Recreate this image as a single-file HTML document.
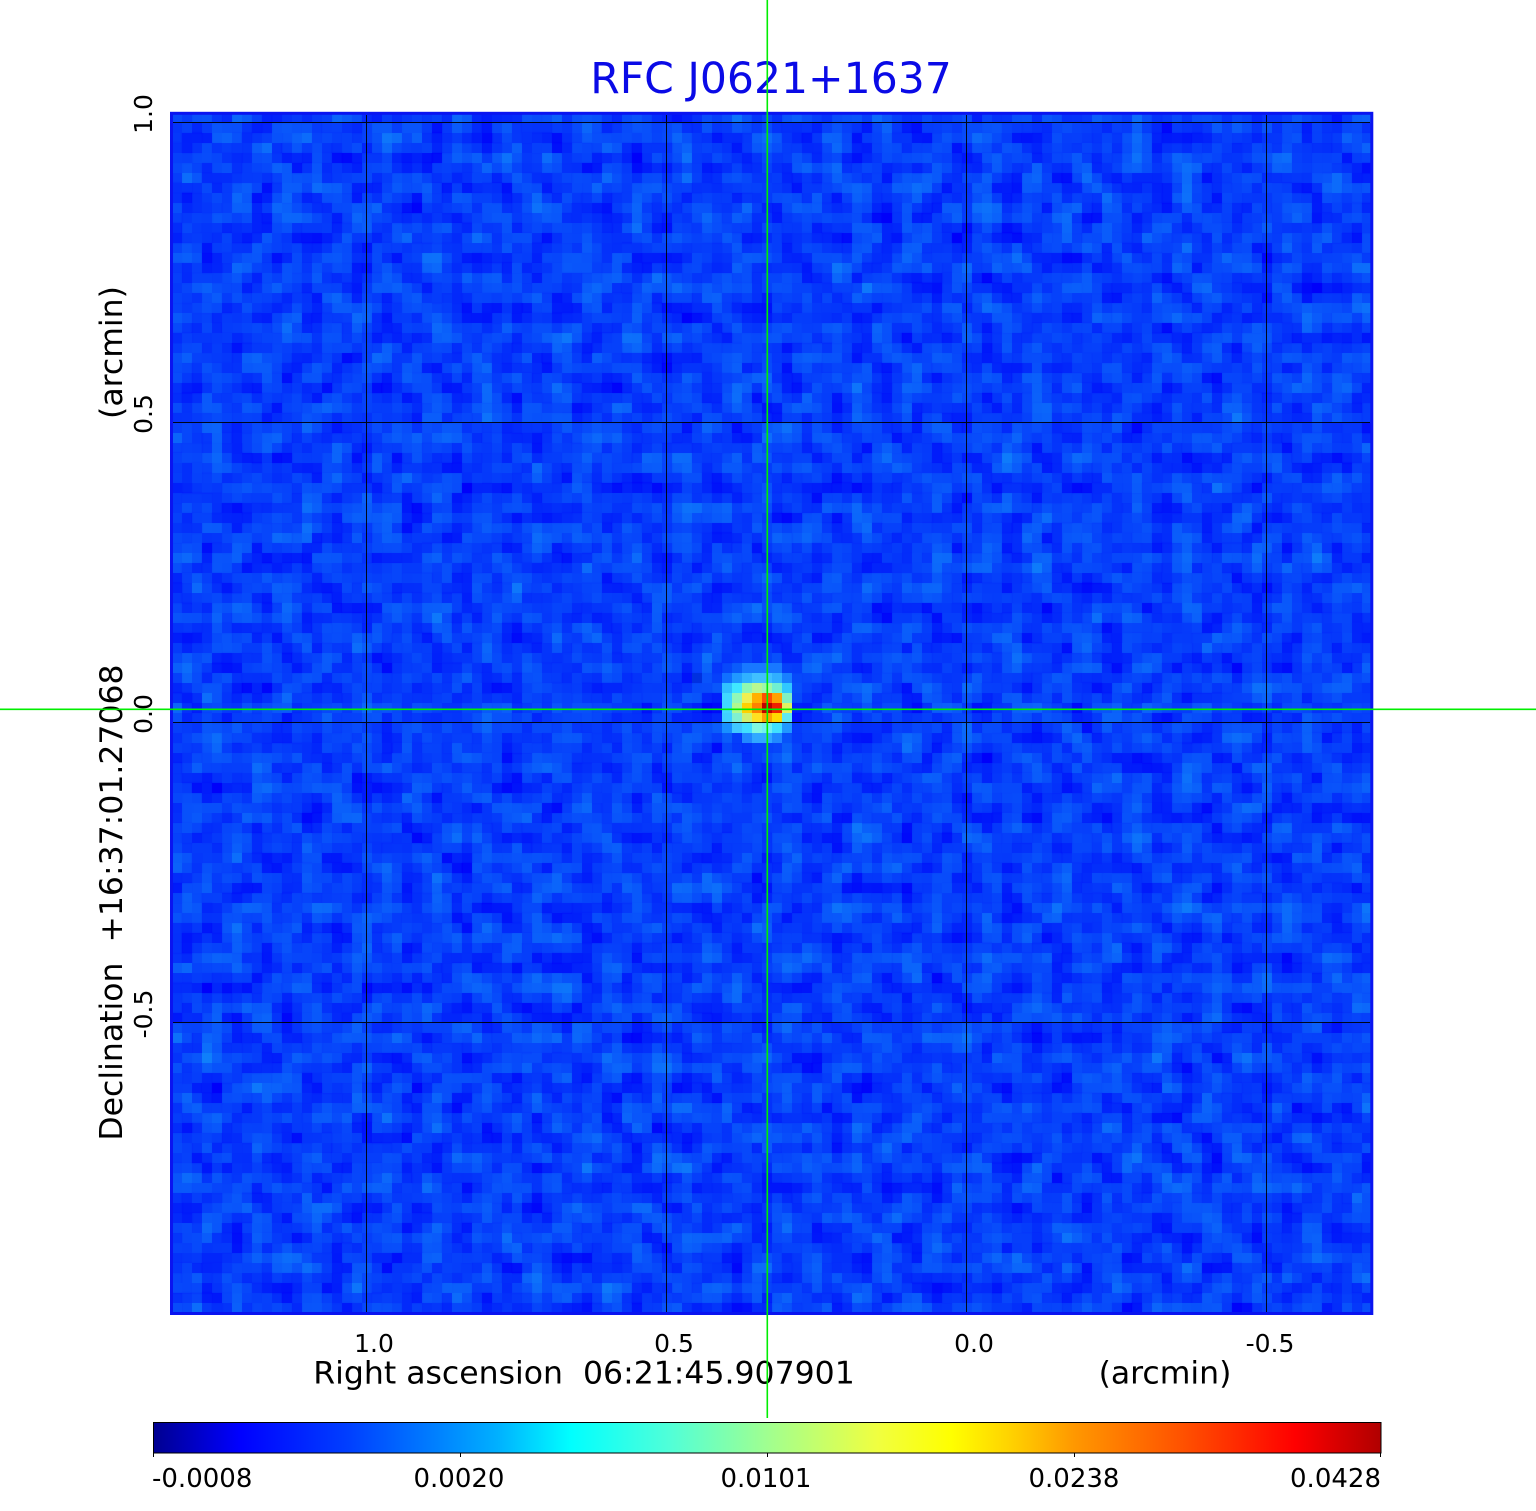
<!DOCTYPE html>
<html><head><meta charset="utf-8"><style>
html,body{margin:0;padding:0;background:#fff;}
svg{display:block;}
text{font-family:"DejaVu Sans","Liberation Sans",sans-serif;fill:#000;}
</style></head><body>
<svg width="1536" height="1511" viewBox="0 0 1536 1511" xmlns="http://www.w3.org/2000/svg">
<defs>
<filter id="pix" x="172" y="113" width="1200" height="1200" filterUnits="userSpaceOnUse" primitiveUnits="userSpaceOnUse" color-interpolation-filters="sRGB">
  <feTurbulence type="fractalNoise" baseFrequency="0.04" numOctaves="2" seed="7" result="t"/>
  <feColorMatrix in="t" type="matrix" values="0.1 0 0 0 -0.03  0.7 0 0 0 -0.12  0 0 0 0 0.98  0 0 0 0 1" result="c"/>
  <feFlood x="176" y="117" width="2" height="2" flood-color="#fff" result="f"/>
  <feComposite in="f" in2="f" operator="over" x="172" y="113" width="10" height="10" result="f2"/>
  <feTile in="f2" result="tile"/>
  <feComposite in="c" in2="tile" operator="in" result="s"/>
  <feMorphology in="s" operator="dilate" radius="4"/>
</filter>
<linearGradient id="cb" x1="0" y1="0" x2="1" y2="0">
  <stop offset="0" stop-color="#000090"/>
  <stop offset="0.07" stop-color="#0000ff"/>
  <stop offset="0.16" stop-color="#0040ff"/>
  <stop offset="0.23" stop-color="#0080ff"/>
  <stop offset="0.28" stop-color="#00b0ff"/>
  <stop offset="0.34" stop-color="#00ffff"/>
  <stop offset="0.42" stop-color="#50ffd8"/>
  <stop offset="0.5" stop-color="#a0ff90"/>
  <stop offset="0.59" stop-color="#f0ff40"/>
  <stop offset="0.65" stop-color="#ffff00"/>
  <stop offset="0.70" stop-color="#ffd000"/>
  <stop offset="0.75" stop-color="#ff9800"/>
  <stop offset="0.84" stop-color="#ff5000"/>
  <stop offset="0.93" stop-color="#ff0000"/>
  <stop offset="1" stop-color="#b00000"/>
</linearGradient>
</defs>

<!-- image data -->
<rect x="171" y="112" width="1202" height="1202" fill="#0c50fa"/>
<rect x="172" y="113" width="1200" height="1200" fill="#0c50fa" filter="url(#pix)"/>

<!-- source blob -->
<g shape-rendering="crispEdges">
<rect x="742" y="663" width="40" height="10" fill="#1878ff"/>
<rect x="722" y="673" width="10" height="10" fill="#1070ff"/>
<rect x="732" y="673" width="10" height="10" fill="#2098ff"/>
<rect x="742" y="673" width="10" height="10" fill="#30b0ff"/>
<rect x="752" y="673" width="10" height="10" fill="#40c0ff"/>
<rect x="762" y="673" width="10" height="10" fill="#40c0ff"/>
<rect x="772" y="673" width="10" height="10" fill="#30b0ff"/>
<rect x="782" y="673" width="10" height="10" fill="#1880ff"/>

<rect x="722" y="683" width="10" height="10" fill="#30c0ff"/>
<rect x="732" y="683" width="10" height="10" fill="#40e8ff"/>
<rect x="742" y="683" width="10" height="10" fill="#90f8b0"/>
<rect x="752" y="683" width="10" height="10" fill="#b8f890"/>
<rect x="762" y="683" width="10" height="10" fill="#a0f8a8"/>
<rect x="772" y="683" width="10" height="10" fill="#70f0d0"/>
<rect x="782" y="683" width="10" height="10" fill="#30c8ff"/>

<rect x="722" y="693" width="10" height="10" fill="#40d8ff"/>
<rect x="732" y="693" width="10" height="10" fill="#90f8b8"/>
<rect x="742" y="693" width="10" height="10" fill="#f0f050"/>
<rect x="752" y="693" width="10" height="10" fill="#ffb000"/>
<rect x="762" y="693" width="10" height="10" fill="#ff5000"/>
<rect x="772" y="693" width="10" height="10" fill="#ffa000"/>
<rect x="782" y="693" width="10" height="10" fill="#80f0c0"/>

<rect x="722" y="703" width="10" height="10" fill="#40d8ff"/>
<rect x="732" y="703" width="10" height="10" fill="#b0f890"/>
<rect x="742" y="703" width="10" height="10" fill="#ffd000"/>
<rect x="752" y="703" width="10" height="10" fill="#ff8000"/>
<rect x="762" y="703" width="10" height="10" fill="#c00000"/>
<rect x="772" y="703" width="10" height="10" fill="#f02000"/>
<rect x="782" y="703" width="10" height="10" fill="#e0f060"/>

<rect x="722" y="713" width="10" height="10" fill="#40d0ff"/>
<rect x="732" y="713" width="10" height="10" fill="#80f0d0"/>
<rect x="742" y="713" width="10" height="10" fill="#d0f070"/>
<rect x="752" y="713" width="10" height="10" fill="#ffe020"/>
<rect x="762" y="713" width="10" height="10" fill="#ffa000"/>
<rect x="772" y="713" width="10" height="10" fill="#ffd800"/>
<rect x="782" y="713" width="10" height="10" fill="#60e8f0"/>

<rect x="722" y="723" width="10" height="10" fill="#1890ff"/>
<rect x="732" y="723" width="10" height="10" fill="#40c8ff"/>
<rect x="742" y="723" width="10" height="10" fill="#40e0ff"/>
<rect x="752" y="723" width="10" height="10" fill="#80f8e0"/>
<rect x="762" y="723" width="10" height="10" fill="#70f0f0"/>
<rect x="772" y="723" width="10" height="10" fill="#40e0ff"/>
<rect x="782" y="723" width="10" height="10" fill="#2098ff"/>

<rect x="742" y="733" width="10" height="10" fill="#2088ff"/>
<rect x="752" y="733" width="10" height="10" fill="#30a8ff"/>
<rect x="762" y="733" width="10" height="10" fill="#30a8ff"/>
<rect x="772" y="733" width="10" height="10" fill="#2088ff"/>
<rect x="692" y="673" width="10" height="10" fill="#0030e0"/>
</g>

<!-- grid -->
<g stroke="#000" stroke-width="1" shape-rendering="crispEdges" opacity="0.9">
<line x1="366.5" y1="115" x2="366.5" y2="1312"/>
<line x1="666.5" y1="115" x2="666.5" y2="1312"/>
<line x1="966.5" y1="115" x2="966.5" y2="1312"/>
<line x1="1266.5" y1="115" x2="1266.5" y2="1312"/>
<line x1="173" y1="122.5" x2="1370" y2="122.5"/>
<line x1="173" y1="422.5" x2="1370" y2="422.5"/>
<line x1="173" y1="722.5" x2="1370" y2="722.5"/>
<line x1="173" y1="1022.5" x2="1370" y2="1022.5"/>
</g>

<!-- frame -->
<rect x="171.5" y="113.3" width="1200.3" height="1200.2" fill="none" stroke="#0a14f0" stroke-width="3"/>

<!-- title -->
<text x="771" y="93" font-size="42.5" text-anchor="middle" style="fill:#0a0ae6">RFC J0621+1637</text>

<!-- x tick labels -->
<g font-size="25" text-anchor="middle">
<text x="374" y="1352">1.0</text>
<text x="674" y="1352">0.5</text>
<text x="974" y="1352">0.0</text>
<text x="1270" y="1352">-0.5</text>
</g>
<text x="584" y="1383.5" font-size="31.5" text-anchor="middle" style="white-space:pre">Right ascension  06:21:45.907901</text>
<text x="1165" y="1383.5" font-size="31.5" text-anchor="middle">(arcmin)</text>

<!-- y tick labels -->
<g font-size="25" text-anchor="middle">
<text transform="translate(152,114) rotate(-90)">1.0</text>
<text transform="translate(152,414) rotate(-90)">0.5</text>
<text transform="translate(152,714) rotate(-90)">0.0</text>
<text transform="translate(152,1014) rotate(-90)">-0.5</text>
</g>
<text transform="translate(122,902.5) rotate(-90)" font-size="31.5" text-anchor="middle" style="white-space:pre">Declination  +16:37:01.27068</text>
<text transform="translate(122,352.5) rotate(-90)" font-size="31.5" text-anchor="middle">(arcmin)</text>

<!-- colorbar -->
<rect x="153.5" y="1422.5" width="1227.5" height="30.5" fill="url(#cb)" stroke="#000" stroke-width="1"/>
<g stroke="#000" stroke-width="1" shape-rendering="crispEdges">
<line x1="153.5" y1="1453" x2="153.5" y2="1457"/>
<line x1="460.5" y1="1453" x2="460.5" y2="1457"/>
<line x1="767.5" y1="1453" x2="767.5" y2="1457"/>
<line x1="1074.5" y1="1453" x2="1074.5" y2="1457"/>
<line x1="1380.5" y1="1453" x2="1380.5" y2="1457"/>
</g>
<g font-size="26">
<text x="152" y="1487">-0.0008</text>
<text x="459" y="1487" text-anchor="middle">0.0020</text>
<text x="766" y="1487" text-anchor="middle">0.0101</text>
<text x="1074" y="1487" text-anchor="middle">0.0238</text>
<text x="1381" y="1487" text-anchor="end">0.0428</text>
</g>

<!-- crosshair -->
<g stroke="#00ee00" stroke-width="1.6">
<line x1="767.3" y1="0" x2="767.3" y2="1418"/>
<line x1="0" y1="709.3" x2="1536" y2="709.3"/>
</g>
</svg>
</body></html>
